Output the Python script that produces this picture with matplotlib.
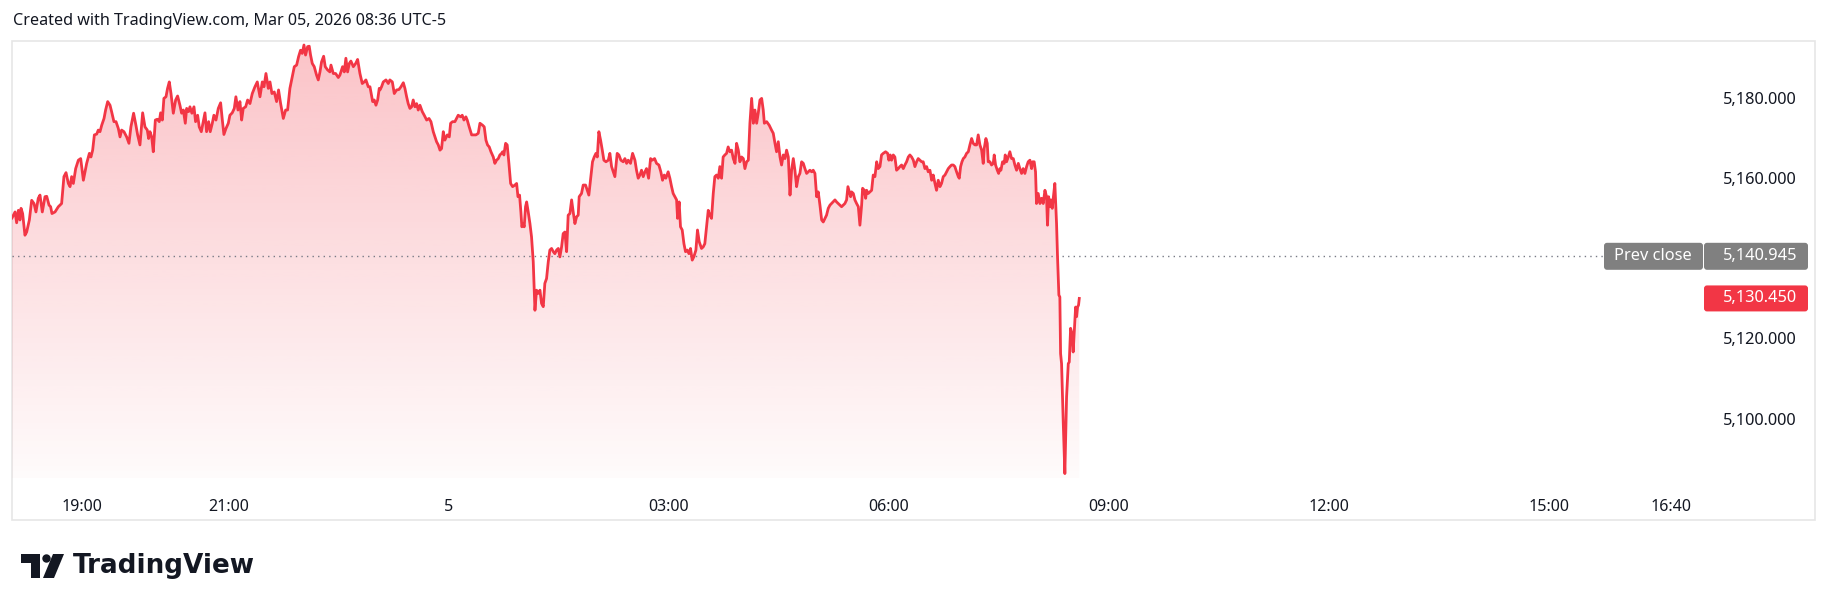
import numpy as np
import matplotlib
matplotlib.use("Agg")
import matplotlib.pyplot as plt
from matplotlib.patches import PathPatch, FancyBboxPatch, Polygon, Circle, Rectangle

plt.rcParams["font.family"] = ["Noto Sans", "DejaVu Sans"]

# minutes after 18:00 (Mar 4) and last price
minutes = [
    2.7, 5.2, 6.5, 7.9, 9.2, 10.1, 11.4, 13.3, 14.7, 16.9, 18.8, 20.7, 22.3, 24.2, 25.6, 27.5,
    29.7, 31.1, 33.0, 34.3, 35.4, 37.9, 40.6, 43.3, 45.2, 46.9, 48.8, 50.2, 51.5, 52.9, 54.8,
    57.0, 58.9, 61.1, 63.8, 66.0, 67.3, 68.7, 70.1, 72.0, 73.3, 74.7, 76.1, 78.0, 79.3, 81.0,
    82.9, 84.2, 86.1, 87.8, 89.7, 91.1, 92.4, 94.3, 96.5, 98.4, 100.0, 102.2, 104.1, 105.5,
    107.4, 109.6, 111.5, 113.4, 114.5, 115.6, 117.0, 118.3, 120.0, 121.6, 123.2, 124.3, 125.7,
    127.0, 128.7, 130.0, 131.4, 132.8, 134.7, 136.6, 138.2, 140.1, 141.5, 142.9, 144.5, 145.6,
    147.2, 148.3, 149.9, 151.6, 152.9, 154.6, 155.9, 157.6, 158.9, 160.6, 161.9, 163.6, 164.9,
    166.6, 167.9, 169.6, 171.5, 173.4, 174.8, 176.1, 177.8, 179.7, 181.0, 182.9, 184.6, 185.9,
    187.6, 189.2, 190.6, 191.9, 193.9, 195.5, 197.4, 199.3, 201.5, 203.4, 205.6, 207.5, 208.9,
    210.5, 212.4, 213.8, 215.4, 217.3, 219.2, 220.8, 222.5, 224.7, 226.6, 228.2, 230.1, 231.8,
    233.7, 235.6, 237.2, 238.8, 240.2, 241.6, 242.9, 244.6, 245.9, 247.0, 248.4, 250.0, 251.9,
    253.3, 254.7, 256.0, 257.7, 259.0, 260.9, 262.8, 263.7, 265.6, 267.5, 269.7, 271.0, 273.2,
    274.6, 275.9, 277.3, 278.7, 280.0, 282.0, 283.9, 285.5, 287.4, 289.3, 290.9, 292.3, 294.2,
    295.6, 297.8, 299.1, 300.5, 301.9, 303.2,
    303.8, 305.1, 306.5, 308.7, 310.6, 311.9, 313.9, 315.5, 317.4, 319.3, 321.0, 322.9, 324.2,
    325.6, 326.9, 328.3, 329.7, 331.0, 332.4, 333.8, 335.1, 336.5, 338.4, 340.0, 342.0, 343.9,
    345.5, 347.4, 348.8, 350.1, 351.5, 352.9, 354.2, 355.6, 356.9, 358.9, 360.5, 361.6, 363.2,
    365.1, 366.5, 367.8, 369.8, 371.1, 372.5, 374.1, 375.2, 376.8, 378.8, 380.1, 382.3, 384.2,
    385.6, 387.8, 389.1, 390.5, 391.8, 393.2, 394.6, 396.5, 397.8, 399.2, 400.6, 401.9, 403.3,
    404.1, 405.2, 406.6, 407.9, 409.3, 410.7, 412.3, 414.2, 415.6, 416.7, 418.0, 419.1, 419.9,
    421.0, 421.8, 422.9, 423.8, 425.1, 426.5, 427.8, 429.2, 430.6, 431.9, 433.3, 434.7, 436.0,
    437.4, 438.7, 440.1, 441.5, 442.8, 444.2, 445.6, 446.9, 448.3, 449.7, 451.0, 452.4, 453.7,
    455.1, 456.5, 457.8, 459.2, 460.6, 461.9, 463.3, 464.7, 466.0, 466.8, 468.7, 470.1, 472.0,
    473.4, 474.7, 476.4, 477.7, 479.1, 480.5, 481.6, 482.9, 484.3, 485.7, 487.0, 488.7, 490.6,
    491.9, 493.3, 494.7, 496.0, 497.9, 499.3, 500.9, 502.8, 504.2, 505.6, 506.9, 508.8, 510.5,
    512.4, 513.7, 515.1, 516.5, 517.8, 519.2, 520.6, 521.9, 523.6, 525.2, 526.6, 528.5, 530.1,
    532.0, 533.6, 535.0, 536.4, 537.7, 539.6, 541.0, 542.4, 543.7, 545.1, 546.5, 547.3, 548.6,
    549.7, 551.1, 552.5, 553.8, 555.2, 556.6, 557.9, 559.3, 560.6, 562.3, 563.6, 565.0, 566.9,
    568.3, 569.6, 571.0, 572.4, 573.7, 575.1, 576.5, 577.8, 579.2, 580.6, 581.9, 583.3, 584.6,
    586.0, 587.4, 588.7, 590.1,
    591.5, 592.9, 594.3, 595.6, 597.0, 598.3, 599.7, 601.1, 602.4, 603.8, 605.2, 606.5, 607.9,
    609.3, 610.6, 612.0, 613.3, 614.7, 616.1, 617.4, 618.3, 620.2, 622.3, 624.2, 625.6, 627.0,
    628.3, 629.7, 631.1, 632.4, 633.8, 635.2, 636.5, 637.9, 639.3, 640.6, 642.0, 643.3, 644.7,
    646.1, 647.4, 648.8, 650.2, 651.5, 652.9, 654.2, 655.6, 657.0, 658.3, 659.7, 661.1, 662.4,
    663.8, 665.2, 666.5, 667.9, 669.2, 670.6, 672.0, 673.3, 674.7, 676.1, 677.4, 678.8, 680.2,
    681.5, 682.9, 684.2, 685.6, 686.7, 687.8, 688.9, 689.7, 691.1, 692.4, 693.8, 695.2, 696.5,
    697.9, 698.7, 700.1, 701.2, 702.0, 703.3, 704.7, 706.1, 707.4, 708.8, 710.2, 711.5, 712.9,
    714.2, 715.6, 717.5, 719.2, 720.2, 721.3, 722.4, 723.8, 725.1, 726.5, 727.9, 729.2, 730.6,
    732.0, 733.3, 734.7, 736.1, 737.4, 738.8, 740.2, 741.5, 742.9, 744.2, 745.6, 747.0, 748.3,
    749.7, 751.1, 752.4, 753.8, 755.2, 756.5, 757.9, 759.2, 760.6, 762.0, 763.3, 764.7, 766.1,
    767.4, 768.8, 770.2, 771.5, 772.9, 774.2, 775.6, 777.0, 777.8, 778.9, 780.0, 781.1, 782.4,
    783.8, 785.2, 786.5, 787.9, 789.2, 790.6, 792.0, 793.3, 794.7, 796.1, 797.4, 798.2, 799.6,
    800.7, 801.5, 802.9, 804.2, 805.6, 806.4, 807.5, 808.9, 810.0, 811.0, 811.9, 813.2, 814.6,
    815.4, 816.5, 817.9, 819.2, 820.6, 822.0, 823.3, 824.7, 826.1, 827.4, 828.8, 830.1, 831.5,
    832.9, 834.2, 835.6, 837.0, 837.8, 839.1, 840.2, 841.0, 842.4, 843.8, 845.1, 846.5, 847.9,
    849.2, 850.0, 850.9, 852.0, 852.8, 853.9, 854.7, 856.0, 857.4, 858.2, 859.3, 860.1, 860.7,
    861.5, 862.9, 864.2, 865.6, 867.0, 867.8, 868.9, 870.0, 871.0, 872.1, 873.0, 873.8, 874.6,
    875.4, 876.0,
]
price = [
    5150.5, 5152.0, 5149.3, 5152.4, 5150.0, 5152.9, 5151.6, 5146.2, 5147.0, 5150.0, 5154.9,
    5154.1, 5152.0, 5155.4, 5156.2, 5152.0, 5155.8, 5155.9, 5153.7, 5153.3, 5151.6, 5152.0,
    5153.3, 5154.1, 5160.8, 5161.8, 5159.1, 5158.3, 5160.8, 5159.1, 5162.8, 5164.9, 5165.3,
    5159.9, 5164.1, 5166.6, 5165.7, 5167.4, 5171.2, 5171.4, 5172.4, 5172.0, 5173.6, 5175.3,
    5177.4, 5179.5, 5178.6, 5177.0, 5174.5, 5174.5, 5172.8, 5170.7, 5172.4, 5172.0, 5170.7,
    5169.1, 5173.2, 5176.6, 5173.6, 5171.2, 5168.7, 5176.7, 5173.2, 5172.4, 5170.3, 5172.0,
    5170.7, 5167.0, 5174.9, 5175.1, 5174.5, 5176.7, 5174.9, 5180.3, 5180.7, 5182.8, 5184.4,
    5181.5, 5176.6, 5179.9, 5180.9, 5178.6, 5176.6, 5177.4, 5174.1, 5177.8, 5177.0, 5178.2,
    5176.6, 5178.2, 5174.5, 5176.1, 5173.2, 5172.0, 5174.1, 5176.7, 5172.0, 5174.5, 5172.0,
    5174.1, 5176.1, 5174.9, 5177.8, 5179.2, 5174.9, 5171.3, 5172.8, 5174.1, 5176.1, 5176.7,
    5177.8, 5180.7, 5177.4, 5179.5, 5174.9, 5177.8, 5178.2, 5179.9, 5179.0, 5181.5, 5183.2,
    5184.4, 5180.7, 5184.4, 5183.2, 5186.5, 5182.8, 5184.4, 5181.5, 5181.9, 5179.5, 5182.4,
    5179.0, 5175.3, 5177.4, 5177.4, 5182.8, 5185.3, 5188.2, 5188.6, 5190.7, 5192.3, 5191.5,
    5193.6, 5191.1, 5193.2, 5193.3, 5191.1, 5189.0, 5188.2, 5186.1, 5184.9, 5186.9, 5189.4,
    5190.8, 5188.2, 5187.4, 5186.9, 5188.6, 5186.5, 5186.5, 5185.5, 5186.1, 5188.2, 5186.9,
    5190.3, 5186.9, 5189.0, 5189.6, 5188.2, 5189.0, 5190.0, 5186.5, 5184.0, 5184.4, 5184.9,
    5183.2, 5183.2, 5179.5, 5179.9, 5178.6, 5179.9, 5182.8,
    5182.4, 5183.2, 5184.4, 5184.9, 5184.0, 5184.9, 5184.4, 5181.5, 5182.4, 5182.5, 5183.2,
    5184.2, 5182.8, 5180.7, 5179.0, 5177.8, 5178.2, 5179.9, 5178.2, 5179.0, 5177.4, 5178.6,
    5177.0, 5176.1, 5174.9, 5175.3, 5174.5, 5172.0, 5170.7, 5169.5, 5168.7, 5167.4, 5167.8,
    5172.0, 5169.9, 5171.2, 5170.7, 5174.1, 5174.5, 5174.5, 5175.3, 5176.1, 5175.7, 5176.1,
    5174.9, 5175.7, 5174.9, 5173.2, 5171.2, 5171.2, 5171.2, 5171.6, 5174.1, 5173.6, 5173.2,
    5169.9, 5168.7, 5168.2, 5167.0, 5165.7, 5164.1, 5164.9, 5165.3, 5166.2, 5166.6, 5167.0,
    5166.2, 5169.1, 5168.7, 5164.1, 5159.1, 5158.3, 5158.7, 5159.1, 5155.8, 5156.2, 5152.0,
    5148.3, 5149.1, 5148.3, 5153.3, 5154.5, 5152.0, 5149.1, 5145.8, 5139.6, 5127.5, 5132.5,
    5131.7, 5132.5, 5129.2, 5128.4, 5134.2, 5135.4, 5139.6, 5142.5, 5142.9, 5142.1, 5141.6,
    5142.5, 5142.9, 5140.8, 5143.3, 5146.6, 5147.0, 5142.1, 5151.2, 5151.6, 5155.0, 5152.0,
    5149.1, 5150.8, 5151.2, 5155.8, 5156.6, 5158.7, 5158.7, 5157.4, 5156.2, 5160.8, 5164.5,
    5165.7, 5166.6, 5165.7, 5172.0, 5169.9, 5167.4, 5164.9, 5164.5, 5164.9, 5166.6, 5163.3,
    5162.0, 5160.8, 5166.6, 5166.2, 5164.9, 5164.5, 5165.3, 5164.1, 5164.9, 5164.1, 5166.6,
    5164.9, 5162.4, 5160.4, 5161.2, 5162.4, 5160.8, 5162.0, 5162.8, 5160.4, 5165.3, 5164.9,
    5165.3, 5164.1, 5163.7, 5162.0, 5159.9, 5161.2, 5160.4, 5162.0, 5160.4, 5158.3, 5156.6,
    5155.8, 5155.0, 5150.4, 5154.5, 5148.3, 5147.5, 5144.1, 5142.1, 5142.5, 5141.6, 5142.9,
    5140.0, 5140.8, 5142.5, 5147.5, 5144.6, 5142.9, 5143.3, 5144.1, 5148.3, 5152.4, 5151.2,
    5150.4, 5156.6, 5160.8, 5161.2, 5160.4, 5163.3, 5160.4, 5165.7, 5166.2, 5166.6, 5168.2,
    5167.0,
    5167.4, 5165.3, 5164.1, 5169.1, 5167.4, 5164.5, 5165.7, 5165.3, 5162.8, 5164.5, 5164.9,
    5174.1, 5180.3, 5174.1, 5177.4, 5174.1, 5176.6, 5179.9, 5180.3, 5177.4, 5174.1, 5174.5,
    5173.6, 5172.4, 5171.6, 5169.1, 5167.0, 5169.5, 5165.7, 5163.7, 5166.2, 5165.3, 5167.4,
    5165.7, 5156.2, 5162.4, 5165.3, 5162.4, 5158.3, 5160.8, 5161.6, 5164.5, 5164.1, 5162.8,
    5161.6, 5162.0, 5162.4, 5162.0, 5162.4, 5161.6, 5155.8, 5157.0, 5153.7, 5150.0, 5149.5,
    5150.4, 5151.2, 5152.9, 5153.7, 5154.1, 5154.5, 5155.0, 5154.5, 5154.1, 5153.7, 5153.3,
    5153.7, 5154.1, 5155.0, 5158.3, 5157.0, 5155.8, 5157.0, 5156.6, 5155.0, 5154.1, 5153.3,
    5148.7, 5153.7, 5157.9, 5157.4, 5155.4, 5157.4, 5156.6, 5157.0, 5157.4, 5161.2, 5160.8,
    5164.5, 5162.8, 5163.3, 5166.2, 5166.6, 5167.0, 5166.6, 5164.9, 5166.2, 5164.9, 5166.2,
    5165.7, 5162.4, 5162.8, 5163.3, 5163.7, 5162.8, 5163.7, 5164.5, 5165.7, 5166.2, 5165.7,
    5164.9, 5163.3, 5164.5, 5165.3, 5164.9, 5164.5, 5164.5, 5162.8, 5163.3, 5162.0, 5162.4,
    5159.9, 5161.2, 5159.1, 5157.4, 5159.9, 5158.3, 5159.1, 5160.8, 5161.2, 5162.0, 5162.8,
    5163.3, 5163.7, 5163.7, 5163.3, 5162.0, 5160.8, 5160.4, 5163.3, 5164.5, 5165.3, 5165.7,
    5166.6, 5167.0, 5168.7, 5170.3, 5169.1, 5168.7, 5168.7, 5171.2, 5168.7, 5167.4, 5164.1,
    5167.8, 5170.3, 5169.1, 5164.5, 5164.5, 5163.7, 5164.1, 5166.2, 5163.7, 5162.4, 5161.6,
    5162.8, 5162.4, 5164.5, 5164.1, 5166.2, 5164.5, 5165.7, 5167.0, 5165.3, 5165.3, 5163.7,
    5162.4, 5164.1, 5162.8, 5161.6, 5162.8, 5161.6, 5163.3, 5164.5, 5164.9, 5162.8, 5164.5,
    5164.5, 5162.0, 5154.1, 5156.6, 5154.1, 5155.4, 5154.1, 5157.4, 5155.8, 5148.7, 5155.8,
    5153.3, 5155.0, 5152.9, 5155.4, 5159.1, 5149.1, 5140.8, 5131.3, 5130.8, 5116.7, 5114.2,
    5099.3, 5086.8, 5105.9, 5114.2, 5114.6, 5123.0, 5121.7, 5117.1, 5123.0, 5128.3, 5125.9,
    5128.3, 5128.8, 5130.45,
]

prev_close = 5140.945
last_price = price[-1]

tick_minutes = [60, 180, 360, 540, 720, 900, 1080, 1260, 1360]
tick_labels = ["19:00", "21:00", "5", "03:00", "06:00", "09:00", "12:00", "15:00", "16:40"]
price_ticks = [5100, 5120, 5160, 5180]

RED = "#F23645"
TXT = "#131722"
W, H = 1830, 611

fig = plt.figure(figsize=(W / 100, H / 100), dpi=100)
fig.patch.set_facecolor("white")

# frame around chart + time scale
deco = fig.add_axes([0, 0, 1, 1])
deco.set_xlim(0, W)
deco.set_ylim(H, 0)
deco.axis("off")
deco.add_patch(Rectangle((12, 41), 1803, 479, facecolor="none", edgecolor="#e6e6e6", lw=1.2))

ax = fig.add_axes([12 / W, 1 - 478 / H, 1803 / W, (478 - 41) / H])
ax.set_facecolor("none")
for s in ax.spines.values():
    s.set_visible(False)
ax.set_xlim(2.7, 1478.0)
ax.set_ylim(5085.7, 5194.6)
y0, y1 = ax.get_ylim()

# gradient area under the line
poly = ax.fill_between(minutes, price, y0, facecolor="none", edgecolor="none")
clip = PathPatch(poly.get_paths()[0], transform=ax.transData, facecolor="none", edgecolor="none")
ax.add_patch(clip)
grad = np.zeros((256, 1, 4))
grad[:, 0, 0] = 242 / 255
grad[:, 0, 1] = 54 / 255
grad[:, 0, 2] = 69 / 255
grad[:, 0, 3] = np.linspace(0.30, 0.02, 256)
im = ax.imshow(grad, extent=[minutes[0], minutes[-1], y0, y1], origin="upper",
               aspect="auto", zorder=1)
im.set_clip_path(clip)
ax.set_xlim(2.7, 1478.0)
ax.set_ylim(y0, y1)

ax.plot(minutes, price, color=RED, lw=2.0, zorder=3, solid_joinstyle="round")

# previous close dotted line
ax.axhline(prev_close, xmin=0, xmax=0.883, color="#787b86", lw=1.0,
           linestyle=(0, (1, 3)), zorder=2)

ax.set_xticks(tick_minutes)
ax.set_xticklabels(tick_labels)
ax.tick_params(axis="x", length=0, pad=15, labelsize=11.5, labelcolor=TXT)
ax.set_yticks([])

for p in price_ticks:
    ax.text(0.99, p, f"{p:,.3f}", transform=ax.get_yaxis_transform(), ha="right",
            va="center", fontsize=11.8, color=TXT)

# price labels (prev close, last)
def to_px(val):
    ydisp = ax.transData.transform((0, val))[1]
    return H - ydisp * H / fig.bbox.height


pc_y = to_px(prev_close)
lp_y = to_px(last_price)
deco.add_patch(FancyBboxPatch((1604, pc_y - 13.5), 99, 27, boxstyle="round,pad=0,rounding_size=3",
                              facecolor="#808080", edgecolor="none"))
deco.add_patch(FancyBboxPatch((1704, pc_y - 13.5), 104, 27, boxstyle="round,pad=0,rounding_size=3",
                              facecolor="#808080", edgecolor="none"))
deco.text(1653, pc_y, "Prev close", ha="center", va="center", color="white", fontsize=11.8)
deco.text(1797, pc_y, f"{prev_close:,.3f}", ha="right", va="center", color="white", fontsize=11.8)
deco.add_patch(FancyBboxPatch((1704, lp_y - 13), 104, 26, boxstyle="round,pad=0,rounding_size=3",
                              facecolor=RED, edgecolor="none"))
deco.text(1797, lp_y, f"{last_price:,.3f}", ha="right", va="center", color="white", fontsize=11.8)

# header
deco.text(13, 21, "Created with TradingView.com, Mar 05, 2026 08:36 UTC-5", ha="left",
          va="center", fontsize=11.6, color=TXT)

# TradingView logo
deco.add_patch(Polygon([(21, 554), (40, 554), (40, 578), (31, 578), (31, 562.5), (21, 562.5)],
                       closed=True, facecolor=TXT, edgecolor="none"))
deco.add_patch(Circle((46.5, 558.5), 4.2, facecolor=TXT, edgecolor="none"))
deco.add_patch(Polygon([(53, 554), (64, 554), (54, 578), (43, 578)], closed=True,
                       facecolor=TXT, edgecolor="none"))
deco.text(73, 566, "TradingView", ha="left", va="center", fontsize=18.9,
          fontweight="bold", color=TXT, family="DejaVu Sans")

fig.savefig("out.png", dpi=100, facecolor="white")
